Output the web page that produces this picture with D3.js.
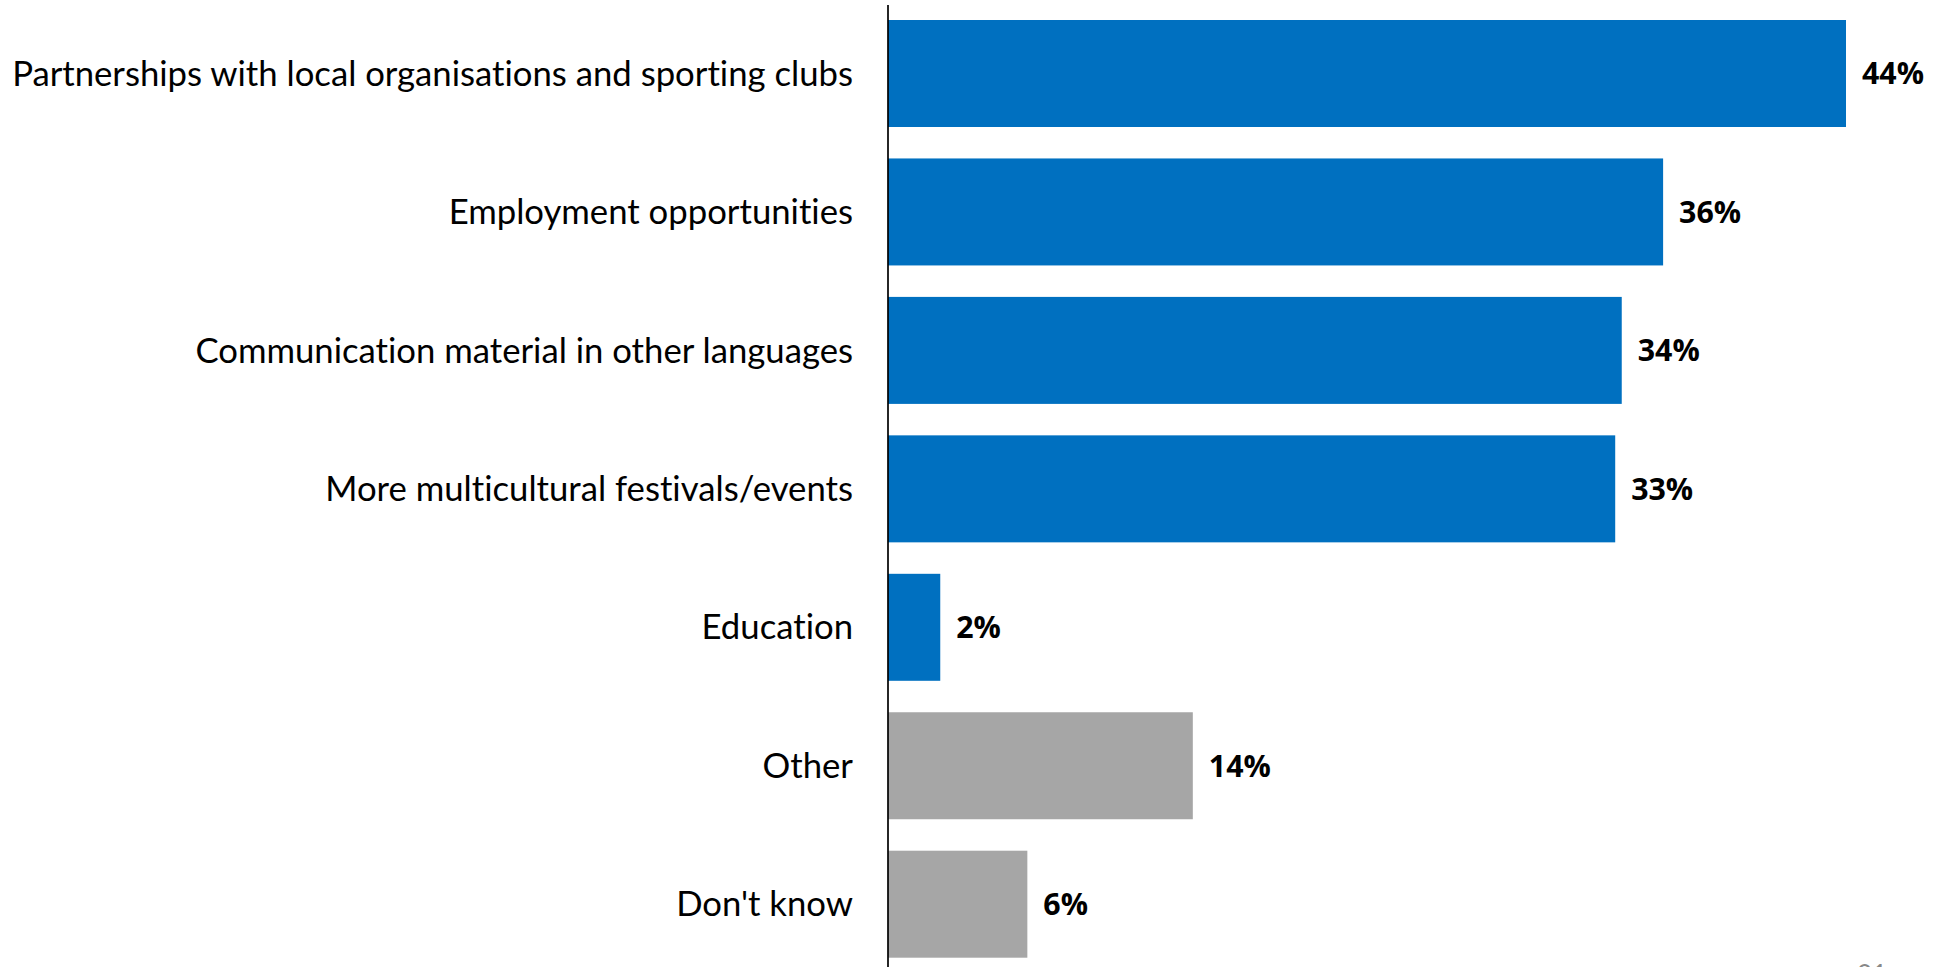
<!DOCTYPE html>
<html>
<head>
<meta charset="utf-8">
<script src="https://cdn.jsdelivr.net/npm/d3@7"></script>
<style>
  html, body { margin: 0; padding: 0; background: #fff; }
  svg { display: block; }
  text { font-variant-ligatures: none; font-feature-settings: "liga" 0, "clig" 0; }
</style>
</head>
<body>
<svg id="chart" width="1943" height="967"></svg>
<script>
const categories = [
  "Partnerships with local organisations and sporting clubs",
  "Employment opportunities",
  "Communication material in other languages",
  "More multicultural festivals/events",
  "Education",
  "Other",
  "Don't know"
];
const values = [44.0, 35.6, 33.7, 33.4, 2.4, 14.0, 6.4];
const valueLabels = ["44%", "36%", "34%", "33%", "2%", "14%", "6%"];
const groups = ["main", "main", "main", "main", "main", "other", "other"];
const pageNumber = "21";

const W = 1943, H = 967;
const axisX = 888;
const FONT = "Lato, 'Open Sans', sans-serif";
const VFONT = "'Open Sans', sans-serif";
const svg = d3.select("#chart");
const color = d3.scaleOrdinal().domain(["main", "other"]).range(["#0070C0", "#A6A6A6"]);

const x = d3.scaleLinear().domain([0, 44]).range([axisX, 1846]);
const y = d3.scaleBand().domain(categories).range([20, 957.7]).paddingInner(0.2272).paddingOuter(0);

const data = categories.map((c, i) => ({ c, v: values[i], label: valueLabels[i], g: groups[i] }));

svg.selectAll("rect.bar").data(data).join("rect")
  .attr("class", "bar")
  .attr("x", x(0))
  .attr("y", d => y(d.c))
  .attr("width", d => x(d.v) - x(0))
  .attr("height", y.bandwidth())
  .attr("fill", d => color(d.g));

// category axis
const yAxis = d3.axisLeft(y).tickSize(0).tickPadding(35);
const gAxis = svg.append("g").attr("transform", `translate(${axisX},0)`).call(yAxis);
gAxis.select(".domain").remove();
gAxis.append("line")
  .attr("x1", 0).attr("x2", 0).attr("y1", 5).attr("y2", H)
  .attr("stroke", "#000").attr("stroke-width", 1.7);
const tickText = gAxis.selectAll(".tick text")
  .attr("fill", "#000")
  .style("font-family", FONT)
  .style("font-size", "32px");
// fit the longest label to the reference width
let maxW = 0;
tickText.each(function() { maxW = Math.max(maxW, this.getComputedTextLength()); });
const fs = 32 * 841 / maxW;
tickText.style("font-size", fs + "px").attr("dy", "0.35em");

// value labels
const vals = svg.selectAll("text.val").data(data).join("text")
  .attr("class", "val")
  .attr("x", d => x(d.v) + 16)
  .attr("y", d => y(d.c) + y.bandwidth() / 2)
  .attr("dy", "0.36em")
  .style("font-family", VFONT)
  .style("font-weight", "bold")
  .style("font-size", "34px")
  .attr("fill", "#000")
  .text(d => d.label);
// fit "44%" to the reference width of about 62px
const w44 = vals.filter((d, i) => i === 0).node().getComputedTextLength();
vals.style("font-size", (34 * 62 / w44) + "px");

svg.append("text")
  .attr("x", 1857).attr("y", 963)
  .attr("dominant-baseline", "hanging")
  .style("font-family", FONT)
  .style("font-size", "26px")
  .attr("fill", "#888")
  .text(pageNumber);
</script>
</body>
</html>
